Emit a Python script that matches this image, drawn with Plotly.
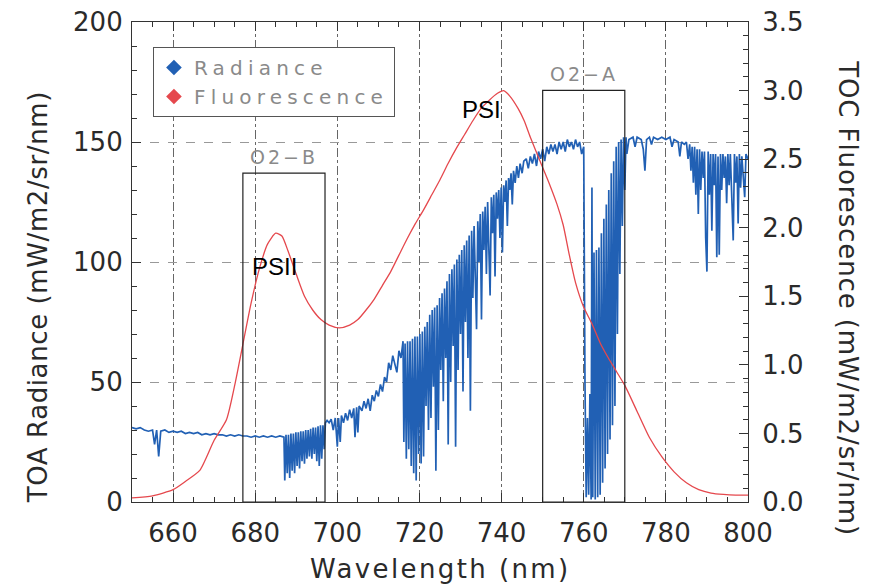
import plotly.graph_objects as go

# ---------------- data ----------------
# TOC fluorescence (right axis, mW/m2/sr/nm)
fluor_nm = [650, 655, 660, 663, 666.5, 670, 673, 675, 677, 679, 681, 683, 685,
            686.5, 688, 690, 692, 694, 696, 698, 700.5, 703, 705, 707, 709, 711,
            713, 715, 717, 719, 721, 723, 725, 727, 729, 731, 733, 735, 737, 739,
            740.5, 742, 744, 745.5, 747, 749.3, 751.5, 753.5, 755, 756.5, 758,
            760, 762, 764, 766, 768, 770, 773, 776, 779, 782, 785, 788, 791, 794,
            797, 800]
fluor_val = [0.03, 0.045, 0.09, 0.15, 0.23, 0.45, 0.6, 0.85, 1.15, 1.45, 1.7, 1.88,
             1.96, 1.94, 1.83, 1.66, 1.5, 1.4, 1.33, 1.29, 1.27, 1.29, 1.33, 1.4,
             1.48, 1.58, 1.68, 1.8, 1.92, 2.03, 2.13, 2.24, 2.35, 2.47, 2.58, 2.68,
             2.78, 2.87, 2.93, 2.98, 3.0, 2.96, 2.87, 2.78, 2.66, 2.49, 2.33, 2.17,
             2.02, 1.8, 1.6, 1.42, 1.3, 1.16, 1.05, 0.95, 0.85, 0.66, 0.47, 0.33,
             0.22, 0.14, 0.09, 0.065, 0.055, 0.05, 0.05]

# TOA radiance (left axis, mW/m2/sr/nm): (wavelength, value) samples
radiance_samples = [
    (650, 31), (651, 30.5), (652, 31), (653, 30), (654, 29.5), (655, 30), (655.5, 24),
    (656, 30), (656.5, 19), (657, 29.5), (658, 30), (659, 29), (660, 29.5), (661, 29),
    (662, 29.5), (663, 28.5), (664, 29), (665, 28.5), (666, 29), (667, 28), (668, 28.5),
    (669, 28), (670, 28.5), (671, 28), (672, 28), (673, 27.5), (674, 28), (675, 27.5),
    (676, 28), (677, 27.5), (678, 27.5), (679, 27), (680, 27.5), (681, 27), (682, 27.5),
    (683, 27), (684, 27.5), (685, 27), (686, 27.5), (687, 27),
    # O2-B band
    (687.2, 9), (687.5, 28), (687.8, 12), (688.1, 28), (688.4, 10), (688.7, 28.5),
    (689.0, 13), (689.3, 28.5), (689.6, 12), (689.9, 29), (690.2, 15), (690.5, 29),
    (690.8, 14), (691.1, 29.5), (691.4, 17), (691.7, 29.5), (692.0, 16), (692.3, 30),
    (692.6, 18), (692.9, 30), (693.2, 19), (693.5, 30.5), (693.8, 18), (694.1, 31),
    (694.4, 20), (694.7, 31), (695.0, 17), (695.3, 31.5), (695.6, 15), (695.9, 32),
    (696.2, 18), (696.5, 32), (696.8, 22), (697.1, 33),
    # 697-716 continuum
    (697.5, 34), (698, 33), (698.5, 34.5), (699, 30), (699.5, 35), (700, 23), (700.3, 35),
    (700.7, 25), (701, 36), (701.5, 33), (702, 37), (702.5, 34), (703, 38.5), (703.5, 35),
    (704, 39), (704.3, 27), (704.7, 39.5), (705, 29), (705.3, 40), (706, 38), (706.5, 42),
    (707, 39), (707.5, 43), (708, 38), (708.5, 44.5), (709, 42), (709.5, 46.5), (710, 44),
    (710.5, 49), (711, 46), (711.5, 52), (712, 50), (712.5, 58), (713, 55), (713.5, 61),
    (714, 58), (714.5, 54), (715, 63), (715.5, 60), (716, 67),
    # water band 716-745
    (716.2, 25), (716.5, 66), (716.8, 18), (717.1, 67), (717.4, 22), (717.7, 67),
    (718.0, 15), (718.3, 68), (718.6, 12), (718.9, 69), (719.2, 9), (719.5, 69),
    (719.8, 20), (720.1, 70), (720.4, 16), (720.7, 71), (721.0, 19), (721.3, 73),
    (721.6, 40), (721.9, 75), (722.2, 30), (722.5, 78), (722.8, 35), (723.1, 80),
    (723.4, 48), (723.7, 81), (724.0, 13), (724.3, 82), (724.6, 30), (724.9, 85),
    (725.2, 55), (725.5, 87), (725.8, 42), (726.1, 89), (726.4, 60), (726.7, 92),
    (727.0, 24), (727.3, 95), (727.6, 50), (727.9, 97), (728.2, 65), (728.5, 99),
    (728.8, 23), (729.1, 101), (729.4, 55), (729.7, 103), (730.0, 70), (730.3, 105),
    (730.6, 46), (730.9, 107), (731.2, 75), (731.5, 109), (731.8, 60), (732.1, 111),
    (732.4, 38), (732.7, 113), (733.0, 85), (733.3, 115), (733.6, 95), (733.9, 72),
    (734.2, 117), (734.5, 100), (734.8, 120), (735.1, 76), (735.4, 121), (735.7, 105),
    (736.0, 123), (736.3, 95), (736.6, 125), (736.9, 110), (737.2, 86), (737.5, 127),
    (737.8, 112), (738.1, 128), (738.4, 94), (738.7, 129), (739.0, 118), (739.3, 130),
    (739.6, 110), (739.9, 131), (740.2, 104), (740.5, 132), (740.8, 125), (741.1, 134),
    (741.4, 115), (741.7, 135), (742.0, 130), (742.3, 137), (742.6, 124), (742.9, 138),
    (743.3, 133), (743.7, 140), (744.1, 135), (744.5, 141), (745.0, 137), (745.4, 142),
    # 746-759.5
    (746, 143), (746.5, 139), (747, 144), (747.5, 141), (748, 145), (748.5, 140),
    (749, 146), (749.5, 143), (750, 147), (750.5, 142), (751, 148), (751.5, 145),
    (752, 149), (752.5, 146), (753, 149), (753.5, 145), (754, 150), (754.5, 147),
    (755, 150), (755.5, 146), (756, 151), (756.5, 148), (757, 150), (757.5, 147),
    (758, 151), (758.5, 148), (759, 150), (759.5, 145),
    # O2-A band
    (760.0, 148), (760.3, 50), (760.6, 2), (760.9, 35), (761.2, 3), (761.5, 45),
    (761.8, 1), (762.0, 131), (762.2, 2), (762.5, 104), (762.8, 1), (763.1, 105),
    (763.4, 2), (763.7, 106), (764.0, 3), (764.3, 112), (764.6, 8), (764.9, 118),
    (765.2, 14), (765.5, 124), (765.8, 20), (766.1, 130), (766.4, 26), (766.7, 137),
    (767.0, 32), (767.3, 142), (767.6, 40), (767.9, 148), (768.2, 70), (768.5, 150),
    (768.8, 95), (769.1, 151), (769.4, 115), (769.7, 152), (770.0, 130), (770.3, 152),
    # 770.5-786
    (770.5, 145), (771, 151), (772, 152), (772.5, 148), (773, 152), (774, 151),
    (774.5, 147), (774.9, 138), (775.3, 151), (776, 152), (776.5, 149), (777, 152),
    (778, 151), (779, 152), (780, 151), (781, 152), (781.5, 148), (782, 151),
    (783, 150), (783.4, 144), (783.8, 150), (784.5, 149), (785, 150), (785.4, 143),
    (785.8, 149),
    # 786-800 water lines
    (786.1, 138), (786.4, 148), (786.7, 133), (787.0, 148), (787.3, 128), (787.6, 147),
    (787.9, 120), (788.2, 147), (788.5, 130), (788.8, 146), (789.1, 135), (789.4, 146),
    (789.7, 110), (790.0, 96), (790.3, 146), (790.6, 128), (790.9, 145), (791.2, 113),
    (791.5, 145), (791.8, 132), (792.1, 145), (792.4, 102), (792.7, 144), (793.0, 103),
    (793.3, 145), (793.6, 130), (793.9, 145), (794.2, 135), (794.5, 144), (794.8, 124.5),
    (795.1, 145), (795.4, 132), (795.7, 145), (796.0, 128), (796.4, 109), (796.7, 145),
    (797.0, 133), (797.3, 144), (797.6, 116), (797.9, 145), (798.2, 131), (798.5, 144),
    (798.8, 135), (799.2, 127), (799.5, 145), (800, 143),
]
radiance_nm = [p[0] for p in radiance_samples]
radiance_val = [p[1] for p in radiance_samples]

# absorption band windows: (start nm, end nm, box top in radiance units, label)
bands = [(677, 697, 137, "O2\u2212B"), (750, 770, 171.5, "O2\u2212A")]
# photosystem peak labels: (nm, radiance-axis height, text)
peak_labels = [(735.2, 163.5, "PSI"), (684.8, 98.3, "PSII")]

BLUE = "#2160b4"
RED = "#e5484d"
FONT = "DejaVu Sans"


def spaced(text, px):
    return '<span style="letter-spacing:%spx">%s</span>' % (px, text)


fig = go.Figure()
fig.add_trace(go.Scatter(x=radiance_nm, y=radiance_val, mode="lines",
                         line=dict(color=BLUE, width=1.7), showlegend=False,
                         yaxis="y"))
fig.add_trace(go.Scatter(x=fluor_nm, y=fluor_val, mode="lines",
                         line=dict(color=RED, width=1.3, shape="spline", smoothing=0.6),
                         showlegend=False, yaxis="y2"))
# legend entries (diamonds)
for name, col in [("Radiance", BLUE), ("Fluorescence", RED)]:
    fig.add_trace(go.Scatter(x=[None], y=[None], mode="markers",
                             marker=dict(symbol="diamond", size=12, color=col),
                             name=spaced(name, 5.2)))

shapes = []
annotations = []
for x0, x1, top, label in bands:
    shapes.append(dict(type="rect", xref="x", yref="y", x0=x0, x1=x1, y0=0, y1=top,
                       line=dict(color="#222", width=1.2), fillcolor="rgba(0,0,0,0)"))
    annotations.append(dict(x=(x0 + x1) / 2, y=top, xref="x", yref="y",
                            text=spaced(label, 3), showarrow=False,
                            yanchor="bottom", yshift=3,
                            font=dict(family=FONT, size=19, color="#8a8a8a")))
for x, y, t in peak_labels:
    annotations.append(dict(x=x, y=y, xref="x", yref="y", text=t, showarrow=False,
                            font=dict(family="Liberation Sans", size=24, color="#000")))

# axis titles placed as annotations
annotations.append(dict(x=-0.153, y=0.426, xref="paper", yref="paper",
                        xanchor="center", yanchor="middle",
                        text=spaced("TOA Radiance (mW/m2/sr/nm)", 0.6), textangle=-90,
                        showarrow=False,
                        font=dict(family=FONT, size=26, color="#2a2a2a")))
annotations.append(dict(x=1.162, y=0.425, xref="paper", yref="paper",
                        xanchor="center", yanchor="middle",
                        text=spaced("TOC Fluorescence (mW/m2/sr/nm)", 0.9), textangle=90,
                        showarrow=False,
                        font=dict(family=FONT, size=26, color="#2a2a2a")))
annotations.append(dict(x=0.5, y=-0.14, xref="paper", yref="paper",
                        xanchor="center", yanchor="middle",
                        text=spaced("Wavelength (nm)", 2.4), showarrow=False,
                        font=dict(family=FONT, size=26, color="#2a2a2a")))

tickfont = dict(family=FONT, size=26, color="#2a2a2a")
fig.update_layout(
    width=865, height=580,
    margin=dict(l=124, r=125, t=14, b=86, autoexpand=False),
    paper_bgcolor="white", plot_bgcolor="white",
    xaxis=dict(range=[650, 800], dtick=20, tick0=660, ticks="inside", ticklen=9,
               tickcolor="#333", showline=True, linecolor="#333", linewidth=1.2,
               mirror="ticks", showgrid=True, gridcolor="#666", griddash="dashdot",
               gridwidth=1, zeroline=False, tickfont=tickfont, ticklabelstandoff=8,
               ticklabeloverflow="allow", automargin=False,
               minor=dict(dtick=5, ticks="inside", ticklen=5, tickcolor="#333",
                          showgrid=False)),
    yaxis=dict(range=[0, 200], dtick=50, ticks="inside", ticklen=9, tickcolor="#333",
               showline=True, linecolor="#333", linewidth=1.2, showgrid=True,
               gridcolor="#999", griddash="dash", gridwidth=1, zeroline=False,
               tickfont=tickfont, ticklabelstandoff=3, ticklabeloverflow="allow",
               automargin=False,
               minor=dict(dtick=10, ticks="inside", ticklen=5, tickcolor="#333",
                          showgrid=False)),
    yaxis2=dict(range=[0, 3.5], dtick=0.5, tickformat=".1f", overlaying="y",
                side="right", ticks="inside", ticklen=9, tickcolor="#333",
                showline=True, linecolor="#333", linewidth=1.2, showgrid=False,
                zeroline=False, tickfont=tickfont, ticklabelstandoff=8,
                ticklabeloverflow="allow", automargin=False,
                minor=dict(dtick=0.1, ticks="inside", ticklen=5, tickcolor="#333",
                           showgrid=False)),
    legend=dict(x=0.034, y=0.948, xanchor="left", yanchor="top",
                bordercolor="#555", borderwidth=1, bgcolor="white",
                font=dict(family=FONT, size=20, color="#8a8a8a"),
                tracegroupgap=0, itemsizing="constant"),
    shapes=shapes, annotations=annotations,
)
fig.write_html("out.html")
